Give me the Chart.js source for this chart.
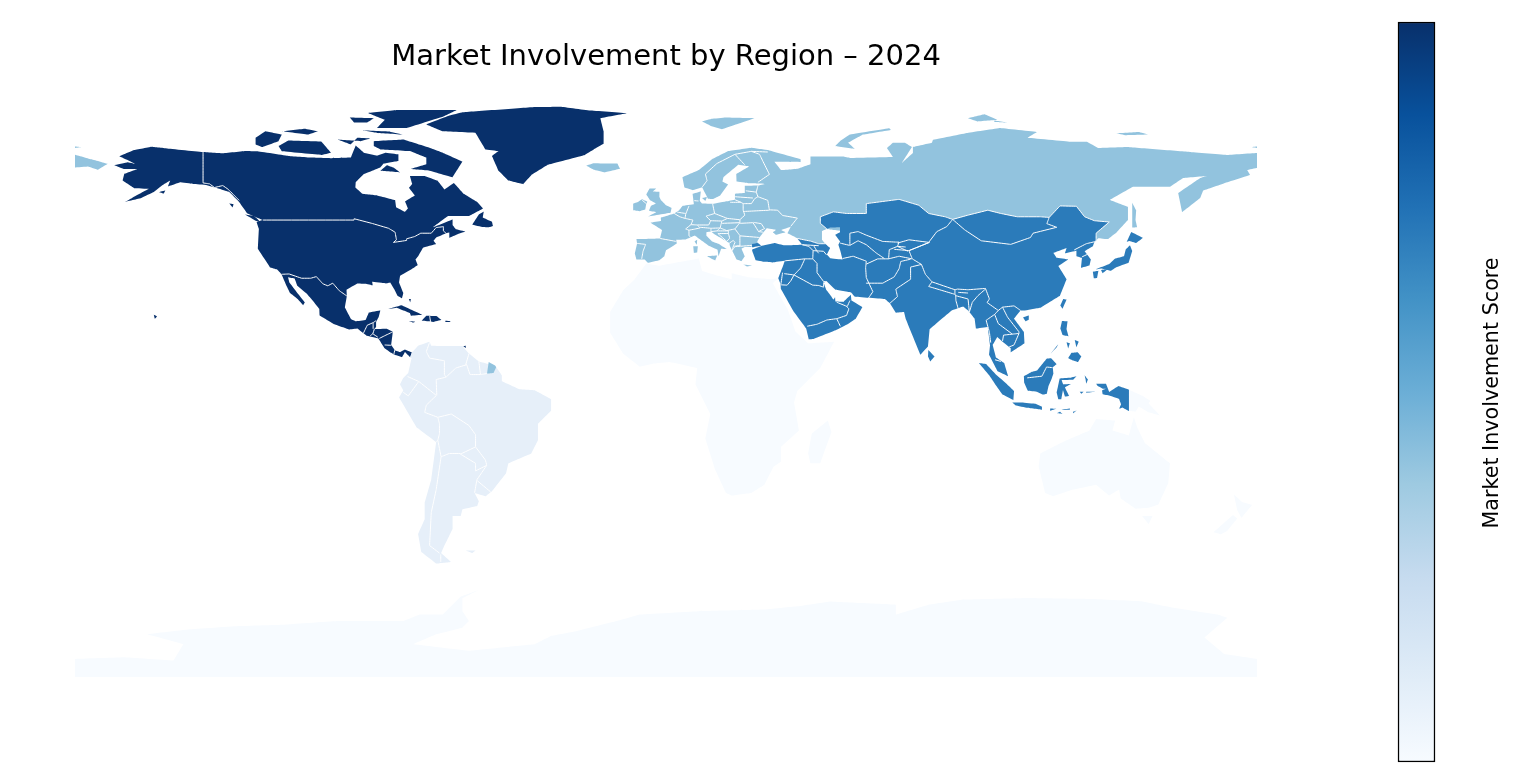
<!DOCTYPE html>
<html>
<head>
<meta charset="utf-8">
<title>Market Involvement by Region – 2024</title>
<script src="https://cdn.jsdelivr.net/npm/chart.js@4"></script>
<style>
  html, body { margin: 0; padding: 0; background: #fff; overflow: hidden; }
  #map { position: absolute; left: 0; top: 0; }
  #bar { position: absolute; left: 1380px; top: 0; }
</style>
</head>
<body>
<canvas id="map" width="1380" height="777"></canvas>
<canvas id="bar" width="139" height="777"></canvas>
<script>
// all outlines are [lon, lat]
const titleText = 'Market Involvement by Region – 2024';
const colorbarLabel = 'Market Involvement Score';
const blues = ['#f7fbff','#deebf7','#c6dbef','#9ecae1','#6baed6','#4292c6','#2171b5','#08519c','#08306b'];
const colorNorthAmerica = '#08306b';
const colorAsia = '#2b7bba';
const colorEurope = '#92c3de';
const colorSouthAmerica = '#e6eff9';
const colorFaint = '#f7fbff';

const northAmerica = [
  [[-168,65.7],[-164,66.6],[-161.7,66.1],[-163.7,67.1],[-166.5,68.4],[-162,70.3],[-156.6,71.3],[-152,70.8],[-141,69.7],[-135,69.3],[-128,70],[-124.5,69.9],[-115,68.5],[-108,68],[-102,67.8],[-96,68],[-94.5,71.7],[-92,69.5],[-88,68.6],[-85.5,69.5],[-81.5,69],[-81.5,67],[-86,66.2],[-87,65],[-92,63],[-94.5,60.5],[-94.6,58.9],[-92.5,57],[-88,56.5],[-82.5,55.1],[-82.2,52.9],[-79.5,51.5],[-78.6,52.5],[-79.5,54.7],[-76.5,56.5],[-78.3,58.8],[-77.3,60],[-78,62.4],[-73.5,62.4],[-69.6,61],[-67.5,58.3],[-64.6,60.3],[-61.5,56.9],[-57.5,54.5],[-55.7,52.5],[-60,50.2],[-66.4,50.2],[-71,46.8],[-65,49.2],[-65,47.5],[-64,46.2],[-61,45.5],[-63.5,44.7],[-66,43.6],[-66,45.2],[-67,45],[-70,43.7],[-70.8,42.7],[-70,41.7],[-74,40.6],[-75.5,38],[-76.3,37],[-75.6,35.3],[-77.5,34],[-81,32],[-81.3,30],[-80,26.8],[-80.4,25.2],[-81.8,26],[-82.8,28],[-84,30],[-85.3,29.7],[-89.5,30.2],[-89.3,29.1],[-91.5,29.6],[-94,29.7],[-97.3,27.8],[-97.2,25.9],[-97.8,22.4],[-95.9,18.8],[-94.5,18.2],[-91.5,18.6],[-90.5,20.9],[-87,21.5],[-87.5,19.5],[-88.3,18],[-88.3,16.5],[-88.9,15.8],[-85,15.9],[-83.2,15],[-83.7,11],[-82.5,9.3],[-81,8.8],[-79.5,9.6],[-77.4,8.7],[-77.9,7.3],[-79.5,8.9],[-80.4,7.3],[-82.9,8.1],[-83.7,8.6],[-85.7,10],[-87.6,13],[-91.3,13.9],[-94,16],[-96.5,15.7],[-101,17.3],[-105.5,20],[-105.6,22],[-108,25],[-109.4,26.6],[-112.3,29],[-113.1,31.2],[-115.1,31.6],[-114.7,30],[-112.4,27],[-110,24],[-110.5,23.1],[-112.2,25],[-114.5,26.8],[-115.8,29.5],[-117.1,32.5],[-118.5,34],[-120.6,34.6],[-122.5,37.5],[-124.3,40.3],[-124,46.3],[-124.7,48.4],[-122.8,49],[-127.5,51],[-130,54.5],[-133,57.5],[-137,58.8],[-140,59.7],[-144,60],[-148,60.5],[-151.7,59.2],[-151,61],[-153.5,59.5],[-156,57.5],[-160,55.6],[-164.8,54.5],[-162.5,55.8],[-157.5,58.5],[-162,58.7],[-165.5,61],[-165,63],[-161,64.5],[-165,64.5]],
  [[-73,78.1],[-68,76],[-58,75.5],[-55,70.5],[-51,70],[-53,68.5],[-51,64],[-48,61],[-43.5,59.9],[-41,62.7],[-36,65.8],[-25,68.7],[-22,70.5],[-19,72.2],[-19,76],[-20,80],[-12,81.5],[-23,82.3],[-32,83.5],[-40,83.4],[-62,81.8],[-66,80.8]],
  [[-89,73],[-80,73.5],[-72,71],[-68,69.5],[-62,66.8],[-65,62],[-72,64],[-78,64.5],[-73,66],[-73,68],[-78,70],[-87,70.5],[-89,71.5]],
  [[-117,69.9],[-105,68.8],[-102,69.5],[-105,72.9],[-115,73.2],[-118,71.5]],
  [[-125,72],[-123,71.2],[-118,73],[-117,75],[-122,76],[-125,74]],
  [[-117,76],[-109,75],[-106,76],[-110,76.8]],
  [[-87,64],[-81,63.5],[-83,65],[-85,65.7]],
  [[-100,73.5],[-96,72],[-94,74],[-90,73.8],[-93,73]],
  [[-92.6,76.3],[-88,75.5],[-80,75],[-84,75.9]],
  [[-90.8,81.6],[-82,82.5],[-63.7,82.5],[-68,80.4],[-78.9,77],[-88,77],[-85.6,79.5]],
  [[-96.3,80.2],[-89,80],[-91,78.7],[-95,78.7]],
  [[-59,47.6],[-57,50.7],[-55.5,51.6],[-55.8,49.8],[-53,48.5],[-52.7,47.2],[-54,46.8],[-55.8,46.9]],
  [[-128.2,50.7],[-125.5,50.3],[-123.5,48.4],[-125,48.8]],
  [[-133,54],[-131.7,53.8],[-132,52.8]],
  [[-154.5,57.5],[-152.5,58],[-153,57]],
  [[-156,20.2],[-155,19.7],[-155.7,19]],
  [[-84.9,21.9],[-80.5,23.1],[-74.2,20.2],[-77.7,19.9],[-78,20.7],[-82,22.3]],
  [[-74.4,18.4],[-73,19.9],[-69.9,19.8],[-68.4,18.6],[-71,18],[-72,18.2]],
  [[-78.3,18.3],[-76.4,18.1],[-77,17.8]],
  [[-67.2,18.4],[-65.6,18.3],[-65.9,18],[-67.2,18]],
  [[-78.3,25],[-77.7,25],[-77.9,24]],
  [[-61.8,10.7],[-61,10.8],[-61,10.1]]
];

const northAmericaBorders = [
  [[-122.8,49],[-95,49],[-95,49.4],[-89.6,48],[-84.5,46.5],[-82.5,45.3],[-82.1,43],[-83,42.2],[-79,42.8],[-79,43.3],[-76.5,44],[-74.7,45],[-71.5,45],[-70,46.7],[-67.8,47],[-67.8,45.7],[-67,45]],
  [[-141,69.7],[-141,60.3],[-139,60],[-137.5,58.9],[-135,59.5],[-133.4,58.4],[-131,56],[-130,55]],
  [[-117.1,32.5],[-114.8,32.6],[-111,31.3],[-108.2,31.3],[-106.5,31.8],[-104.5,29.6],[-103,29],[-101.5,29.8],[-99.5,27.5],[-97.2,25.9]],
  [[-92.2,14.5],[-91,17],[-89.2,17.8],[-88.3,18.4]],
  [[-89.2,17.8],[-89.2,15.9]],
  [[-88.8,15.9],[-89.3,14.4],[-87.8,13.4]],
  [[-90.1,13.8],[-89.3,14.4]],
  [[-87.3,13],[-85.7,13.8],[-83.2,15]],
  [[-85.7,11],[-83.7,10.9]],
  [[-82.6,9.5],[-82.9,8.1]],
  [[-72,19.9],[-71.7,18]]
];

const southAmerica = [
  [[-77.4,8.7],[-75.5,10.8],[-72,12],[-71.5,10.8],[-68,10.7],[-62,10.7],[-60,8.4],[-57,6],[-52,4.7],[-50,1.8],[-50,0],[-44.5,-2.5],[-40,-2.8],[-35,-5.5],[-35,-9],[-39,-13],[-39,-18],[-41,-22],[-48,-25],[-48.7,-28],[-53,-33.5],[-54.9,-35],[-58.3,-34],[-57,-36.5],[-57.5,-38],[-62,-39],[-62.5,-41],[-65,-41],[-65,-45],[-66,-47],[-67.5,-50],[-68.5,-52.3],[-65.5,-55],[-70,-55.5],[-74.5,-52],[-75.5,-46.5],[-73.5,-42],[-73.5,-37],[-71.5,-30],[-70,-18.5],[-76,-14],[-81.3,-5],[-80,-2.8],[-81,-1],[-80,1],[-78.5,2.5],[-77.5,7],[-77.9,7.3]],
  [[-61,-51.5],[-58,-51.5],[-59,-52.3]]
];

const southAmericaBorders = [
  [[-72,11.8],[-73,9],[-72,7],[-67.5,6.2],[-67.5,2],[-67,1.2]],
  [[-67,1.2],[-70,0.5],[-69.8,-4.3]],
  [[-78.7,1.4],[-75.3,-0.1],[-70,-4.3]],
  [[-75.3,-0.1],[-78.5,-4.5],[-80,-3.4]],
  [[-69.9,-4.3],[-73,-7.3],[-73.5,-9.5],[-69.5,-11],[-69,-13],[-69,-16],[-69.5,-18],[-70,-18.4]],
  [[-69.5,-11],[-65.4,-10],[-60,-13.5],[-58,-16.3],[-58,-20]],
  [[-58,-20],[-62.6,-22.2]],
  [[-62.6,-22],[-66,-22],[-68.5,-23],[-69.5,-18]],
  [[-68.5,-23],[-70,-33],[-71.5,-40],[-72,-50],[-69,-52.3]],
  [[-68.6,-52.7],[-68.6,-55]],
  [[-58,-20],[-55,-24],[-54.6,-25.6],[-58,-27.3],[-58,-25],[-62.6,-22.2]],
  [[-54.6,-25.6],[-57.6,-30],[-58.3,-34]],
  [[-57.6,-30.2],[-53.4,-33.7]],
  [[-60,8.4],[-61,5],[-60.7,5]],
  [[-67,1.2],[-64,4],[-60.7,5],[-59.7,2],[-56.5,2],[-54.5,2.3]],
  [[-57,6],[-56.5,2]]
];

const frenchGuiana = [
  [[-54.5,2.3],[-54,5.8],[-52,4.7],[-51.7,4.2],[-52.5,2.5]]
];

const europeRussia = [
  [[-9,37],[-9.5,38.8],[-8.8,41.9],[-9,43.2],[-1.8,43.4],[-1.2,46],[-4.7,48.2],[-1.5,48.7],[-1.6,49.7],[2.5,51],[4,52],[5,53.3],[8.5,53.8],[8.1,57],[10.6,57.7],[10.3,54.8],[11,54],[14.3,53.9],[18.5,54.7],[21,55.2],[21,57],[24,57.2],[24,59.4],[28,59.5],[30.2,60],[25,60.2],[21.5,60.7],[21.4,63],[25.3,65.3],[22,65.8],[17.5,62],[17.2,60.7],[18.9,59.8],[16.5,56.5],[14.3,55.4],[12.8,55.5],[11,59],[8.2,58.1],[5.6,58.9],[5,62],[10,64.2],[14,67.5],[19,70],[26,71],[31,70.3],[41,67.5],[41,66.6],[33,66.7],[35,64.2],[37,64.3],[40,64.6],[44,66],[44,68.3],[54,68.3],[56,67.9],[69.1,68.2],[67.3,70.9],[69.1,72.5],[72.8,72.5],[74.9,71.2],[71.9,66.4],[75.2,69.4],[75.2,71.2],[81,72.5],[81.3,73.4],[91.7,75.5],[101.7,77],[113,75.8],[110,74],[123,72.8],[128.2,72.8],[131.6,70.9],[140.4,71.2],[159.6,69.7],[170.9,68.8],[180,69.4],[180,64.8],[177,64.2],[177.9,62.7],[170.3,60.3],[163.6,58],[162.7,55.7],[157.2,51.4],[156,57.2],[162.7,61.8],[164.8,62.4],[157.5,61.8],[153.5,59.1],[142.2,59.1],[135.2,55.1],[140.7,53],[140.7,49],[137.4,45.4],[134.6,43.2],[131.6,43.5],[131,42.7],[125,44],[100,45],[60,45],[51,46],[49,46.3],[47.5,45.7],[47.5,43],[48.5,41.8],[46.5,41.5],[40,43.5],[37,45],[38,47],[35,46],[36.5,45.3],[33.5,44.5],[32.5,45.3],[33.5,46],[30.7,46.5],[28.7,44],[27.8,42.5],[28,41.9],[26.3,41.6],[26,40.8],[24,40.8],[23,40.3],[24,38],[23,36.5],[21.5,37],[19.5,41],[19.3,42],[15,44.5],[13.7,45.5],[12.3,45.3],[12.3,44.2],[14,42.5],[16,41.8],[18.5,40.2],[16.8,40.3],[16,38],[15.7,40],[13,41.2],[10.5,43],[8.8,44.3],[6,43.1],[3.1,43],[3.3,41.9],[0,39.8],[-0.5,38],[-2,36.8],[-5.5,36],[-6.5,37]],
  [[-180,68.9],[-175,67.5],[-170,66.1],[-173,64.3],[-176,65.3],[-180,65]],
  [[-180,71.4],[-178,71.2],[-180,70.9]],
  [[178,71.2],[180,71.4],[180,70.9]],
  [[142,54.3],[143.2,52],[143,49],[143.5,46.8],[142,46.7],[142,50]],
  [[-5.7,50],[1.4,51.2],[1.7,52.7],[0,53.5],[-1.5,55],[-2,56],[-2,57.6],[-4,57.7],[-3,58.6],[-5,58.6],[-6,56.8],[-4.8,55],[-3,54],[-4.6,53.3],[-5.2,51.8],[-3,51.4]],
  [[-10,52],[-8,51.7],[-6.3,52.2],[-6,54],[-5.7,54.6],[-7.3,55.3],[-8.5,54.5],[-10,54]],
  [[-24.3,65.6],[-22,64.3],[-18.7,63.5],[-14,64.6],[-14.8,66.2],[-18,66.2],[-22,66.3]],
  [[11,79],[14,77.5],[17,76.6],[22,78.3],[27,80],[18,80.2],[14,79.8]],
  [[51.5,71.5],[53,73],[56,75],[68,76.9],[68.5,76.4],[60,75],[55.5,72.5],[57.5,70.6]],
  [[92,80],[97,81.2],[101,79.5],[95,79]],
  [[100,79.3],[105,78.5],[100,78.8]],
  [[137,75.4],[144,75.8],[147,75],[140,74.8]],
  [[11,55.7],[12.5,56],[12,54.8]],
  [[8.3,41],[9.7,41],[9.5,39.1],[8.5,39]],
  [[8.7,42.5],[9.5,43],[9.4,41.5]],
  [[12.5,38],[15.6,38.2],[15,36.7]],
  [[23.5,35.5],[26.2,35.2],[24.7,34.9]]
];

const europeBorders = [
  [[-8.8,41.9],[-6.2,41.6],[-7,39.5],[-7.4,37.2]],
  [[-1.8,43.4],[3.1,42.5]],
  [[2.5,51],[4.2,50],[5.8,49.5],[8.2,49],[7.6,47.6],[6,46.3],[7,45.9],[7,44.2],[7.5,43.8]],
  [[3.4,51.4],[6,51]],
  [[6,50.8],[7,53.3]],
  [[6,50.8],[5.8,49.5]],
  [[8.6,54.9],[9.9,54.8]],
  [[14.2,53.9],[14.8,51],[12.2,50.2],[13.6,48.8],[13,47.5],[9.6,47.5],[7.6,47.6]],
  [[6.9,45.9],[8.5,46.2],[10.4,46.6],[9.6,47.4]],
  [[10.4,46.8],[13.7,46.5],[13.7,45.6]],
  [[13.7,46.5],[16.5,46.6],[15.5,45.7],[13.7,45.5]],
  [[13.6,48.8],[17,48.7],[16.5,46.6]],
  [[14.8,51],[18.7,49.5],[22.5,49.1],[24,50.5],[23.5,52],[23.5,54],[22.8,54.4],[19.5,54.4]],
  [[22.8,54.4],[21,55.2]],
  [[17,48.7],[18.7,49.5]],
  [[17,48],[22.5,48.2],[21,46.3],[18.5,45.8],[16.5,46.6]],
  [[22.5,49.1],[22.5,48.2]],
  [[22.5,48],[26.5,48.2],[28.2,45.5],[29.6,45.3]],
  [[22.5,44.2],[28.5,43.7]],
  [[21,46.3],[22.5,44.3],[22.5,41.3]],
  [[26.6,48.3],[29,47.9],[30,46.4],[28.2,45.5]],
  [[20.1,39.7],[21,40.9],[26.2,41.3]],
  [[15.5,45.7],[19,45.7],[19,44.9],[15.8,44.9],[18.5,42.5]],
  [[19,44.9],[19.4,43.5],[18.5,42.5]],
  [[19.3,42],[20.5,42.8],[21,42.2],[20.5,41],[20.1,39.7]],
  [[20.5,41],[22.7,41.3]],
  [[23.5,51.6],[31.5,52]],
  [[31.5,52.1],[34,52],[35.5,50.4],[40,49.6],[38,47.1]],
  [[31.5,52],[31,55],[28,56.1]],
  [[23.5,54],[26,54],[27,55.5],[28,56.1]],
  [[21,56.1],[26.5,55.7]],
  [[24.3,57.9],[27.5,57.5]],
  [[28,56.1],[27.5,57.5],[28,59.5]],
  [[28,60.5],[31.5,62.9],[29.5,66.9],[28.5,69],[26,69.9],[21,69],[24,65.8]],
  [[21,69],[15.5,66.2],[12,63],[12.5,61],[11,59]],
  [[26,69.9],[31,69.7]],
  [[-7.3,55.1],[-6,54]]
];

const asia = [
  [[47,50],[51,51.5],[55,51],[61,51],[61,54],[71,55.3],[77,53.5],[80,51],[85,50],[87.3,49.2],[92,50.5],[98,52],[102,51],[107,50],[114,50],[116.7,49.8],[120,53.3],[125,53.2],[127.5,50],[130.5,48.8],[135,48.4],[131,45],[131,42.7],[130.5,42.4],[130,41],[127.5,39.5],[129.4,37],[129,35.2],[126.4,34.5],[126.7,37.5],[125,38],[125,39.7],[121.5,38.9],[122,40.5],[118,39],[119,37.5],[122.5,37],[119.5,35],[122,31],[120,26],[114,22.3],[109.5,21.5],[108,21.5],[106,19],[109,15],[109.2,11.5],[105,8.7],[105,10],[102.5,12],[100.9,13.4],[99.5,11],[100.5,7.2],[103,5.5],[104.2,1.5],[101,3],[98.4,8],[98.7,11],[98,16.5],[94.4,16],[94,19],[92,21.5],[90.5,22.7],[87,21.5],[80.3,15.8],[79.8,10.5],[77.5,8],[73,19],[72.5,21],[70,20.8],[68.2,23.7],[66.7,25],[57.5,25.7],[56.4,27],[51.5,27.9],[49,30.3],[48,30],[48.8,27.8],[50.2,26],[51,24.8],[51.5,25.5],[51.6,24.2],[54,24.1],[56.3,26.3],[56.5,24.5],[59.8,22.5],[57.8,19],[55.3,17.3],[52,15.6],[45,12.8],[43.5,12.7],[42.7,16],[39,21],[35,28],[34.9,29.5],[34.2,31.3],[35.8,35.5],[36.2,36.6],[32.5,36.1],[30,36.3],[27.3,36.8],[26.3,39.5],[26.2,40],[29,41.1],[33,42],[36,41.3],[41.5,41.5],[40,43.4],[44,42.6],[46.5,41.8],[48.5,41.8],[50,40.5],[49,38.5],[50,37.4],[53.8,37],[53,40],[52.5,41.5],[53,42.5],[51.5,44.5],[53,45.3],[53,46.8],[50,46.7],[49,46.3],[47,48]],
  [[26.2,40.7],[26.2,41.7],[28,42],[29,41.2]],
  [[130.9,34],[135,35.6],[136.8,37.3],[139.5,38],[140,40],[141.3,41.3],[142,39.6],[140.9,36],[137,34.6],[135.5,33.6],[132.5,34.3]],
  [[130,33.3],[131.7,33.6],[131.3,31.4],[130.3,31.3]],
  [[132.5,33.8],[134.5,34],[133,32.8]],
  [[140.3,42.3],[141.7,45.4],[145.3,43.6],[143.2,42],[141,42.6]],
  [[121,25],[122,24.8],[120.8,22],[120.1,23]],
  [[108.7,19.4],[110.5,20],[110.5,18.7],[109.5,18.2]],
  [[79.9,9.5],[81.8,7.5],[80.5,6],[79.8,7.5]],
  [[120.6,18.3],[122.3,18.2],[122,15.8],[122.6,13.6],[120.8,14],[120.1,16]],
  [[122.5,7],[123.5,8.6],[125.4,8.8],[126.5,7.5],[125.5,5.8],[124,6.3]],
  [[122,11.8],[123,11.5],[122.5,9.9]],
  [[124.5,12.5],[125.7,12],[125,10.3]],
  [[117.2,8.4],[119.5,11.3],[119,10.3]],
  [[95.3,5.5],[97.5,5.2],[100.5,2],[103.7,-0.8],[106,-3],[105.8,-5.8],[102.5,-4.1],[100.3,-1],[98.5,1.7]],
  [[105.5,-6.5],[108.5,-6.5],[112.6,-6.9],[114.5,-7.8],[114.5,-8.7],[110,-8.1],[106.5,-7.4]],
  [[109,1.5],[111.2,2.7],[113,3.2],[116,6.9],[117.3,7],[119,5.2],[117.8,4.2],[118,2.3],[117.5,0.8],[116.5,-1.5],[116,-3.8],[114.8,-4.1],[113,-3.2],[110.2,-2.9],[109.1,-0.5]],
  [[119.5,-5.5],[119,-3.5],[119.9,0.8],[123,1],[125,1.5],[124,0.4],[120.5,0.3],[121,-1],[123.3,-0.9],[121.5,-1.9],[122.8,-4.5],[121.5,-4.7],[120.9,-2.7],[120.4,-5.5]],
  [[124,-9.8],[125,-8.9],[124,-9.3]],
  [[120,-8.8],[123,-8.3],[123,-8.7]],
  [[117,-9],[119,-8.4],[117,-8.3]],
  [[119,-9.8],[120.8,-10],[120,-9.3]],
  [[128,-3.2],[130.8,-3.2],[128,-3.5]],
  [[127.5,1.8],[128.5,0.5],[128,-0.8],[127.8,0.5]],
  [[126,-3.2],[127.2,-3.2],[126.5,-3.8]],
  [[131,-0.8],[134,-0.8],[135,-3.3],[137.8,-1.5],[141,-2.6],[141,-9.1],[139,-8],[138,-8.4],[138.6,-7],[138,-5.4],[135,-4.4],[133,-4],[132.8,-2.8],[134,-2.3],[133,-2.3],[131.5,-1.5]]
];

const asiaBorders = [
  [[47,50],[51,51.5],[55,51],[61,51],[61,54],[71,55.3],[77,53.5],[80,51],[85,50],[87.3,49.2],[92,50.5],[98,52],[102,51],[107,50],[114,50],[116.7,49.8],[120,53.3],[125,53.2],[127.5,50],[130.5,48.8],[135,48.4],[131,45],[131,42.7],[130.5,42.4]],
  [[47,50],[47,48],[49,46.3]],
  [[36.2,36.6],[42.3,37.2],[44.7,37.2]],
  [[41.5,41.5],[43.5,41],[44.8,39.7],[44.7,37.2]],
  [[41.5,41.5],[46.5,41.2]],
  [[40,43.4],[44,42.6],[46.5,41.8],[48.5,41.8]],
  [[45,41.2],[46,39.5],[46.5,38.9]],
  [[44.8,39.7],[48,39.5],[48.9,38.4]],
  [[44.7,37.2],[46,35.8],[46,33],[48,30.3],[49,30.3]],
  [[42.3,37.2],[41,34.4],[39,32.3]],
  [[39,32.3],[36,32.7]],
  [[35.5,33],[35,29.5]],
  [[35,29.3],[36.9,29.2],[38,30.5],[39,32.3],[44.7,29.2],[46.5,29.1],[48,28.6],[48,30]],
  [[43,16.7],[46,17.3],[49,18.6],[52,19],[55,20],[55.7,22],[55,22.7]],
  [[52,24],[55.2,22.7],[56,24.5]],
  [[52,19],[53.1,16.7]],
  [[53.8,37.3],[57,38],[61,36.5],[60.8,34.5],[61,31.5],[63,27.2],[61.5,25]],
  [[60.9,29.8],[66,29.8],[69.5,31.7],[71,34.2],[71.5,36.4],[74.5,37.1]],
  [[61,35.6],[64.5,37.2],[67.8,37.2],[71,38],[74.9,37.2]],
  [[56,41.3],[58.5,42.7],[61,41.5],[64,39],[66.5,37.3]],
  [[56,45],[56,41.3]],
  [[56,45],[58.5,45.5],[61,44.4],[66,42.5],[70,42.3],[71,42.3]],
  [[53,42],[55.9,41.3]],
  [[70.5,42],[74,43],[80.2,42.2],[74,39.7],[69.5,40.1]],
  [[67.8,37.2],[68,40],[70.5,41],[73.7,39.5]],
  [[71,42.3],[70.5,41],[73,40.8]],
  [[87.3,49.2],[85.5,47],[82.5,45.5],[80,42.2]],
  [[87.3,49.2],[91,46],[96,42.7],[105,41.6],[111,43.7],[111.8,45],[119,46.8],[116,47.9],[116.7,49.8]],
  [[80.2,42.2],[74,39.7],[75,37.2],[77.8,35.5],[79,32.5],[81,30.2],[88,27.8],[88.8,28],[92,27.8],[97.3,28.2],[98.5,25],[97.8,23.9],[101.2,21.5],[102.5,22.5],[106,22.9],[108,21.5]],
  [[77.8,35.5],[74.5,34.7],[74.5,31],[70,28],[70.5,25.7],[68.2,23.7]],
  [[81,30.2],[80,28.8],[88,26.4],[88,27.8]],
  [[89,27],[92,26.8]],
  [[88.2,26.4],[88.3,24.5],[89,22]],
  [[88.2,26],[92,25],[92.4,21]],
  [[92.4,21],[93.3,24],[95,26],[97.3,28]],
  [[101.2,21.5],[100.1,20.3],[97.5,18.5],[98.5,14.9],[98.9,11.7]],
  [[100.1,20.3],[101.2,17.5],[105.5,14.3]],
  [[102.5,22.5],[104,19.5],[107.5,15],[107.5,14.5]],
  [[102.5,12.2],[102.8,14],[105.5,14.3],[107.5,14.5],[106,11],[104.5,10.4]],
  [[100.2,6.5],[102,6]],
  [[124.3,39.9],[128,41.8],[130.5,42.4]],
  [[126.7,37.8],[128.4,38.6]],
  [[110,1],[114.5,1.5],[115.9,4.3],[117.7,4.1]]
];

const faintLand = [
  [[-17,21],[-13,27.7],[-9.5,31],[-6,35.8],[-2,35.1],[10,37.3],[11,33.5],[15,32.3],[20,31],[20,32.8],[25,31.6],[32,31],[34.2,31.3],[32.5,29.8],[37,22],[39.5,15],[43.3,11.5],[51.2,12],[47,4],[40,-3],[39,-6.5],[40.5,-15],[35,-20],[35,-24.5],[32.8,-26],[30,-31.5],[26,-34],[20,-34.8],[18.3,-34],[15,-27],[12,-17.5],[13.5,-10],[9,-1],[9.5,4],[5,5],[1,5.8],[-4,5.3],[-8,4.4],[-13,8.3],[-17,14.7]],
  [[49.3,-12],[50.4,-15.5],[47,-25],[44,-25],[43.3,-22],[44.4,-16]],
  [[114,-22],[113.5,-26],[115.5,-34],[118,-35],[124,-33],[131,-31.5],[135,-34.8],[138,-33],[138.5,-35.7],[143,-38.8],[147,-38.5],[150,-37.5],[153,-31],[153.5,-25],[146,-19],[143.5,-14],[142.5,-11],[141,-16.5],[136,-15],[136.8,-12],[131,-11.5],[129,-15],[122,-18],[117,-20.5]],
  [[145,-41],[148.2,-41],[147,-43.5]],
  [[166.7,-46],[172.7,-40.7],[174,-41.8],[171,-45.5],[169,-46.6]],
  [[173,-34.5],[175.5,-36.8],[178.5,-37.7],[175.3,-41.6],[174,-39.3]],
  [[141,-2.6],[145,-4.4],[147.5,-6],[147,-6.8],[150.5,-10.5],[147,-9.5],[144,-7.7],[143,-9.3],[141,-9.1]],
  [[-180,-90],[-180,-84.5],[-165,-84],[-150,-85],[-147,-80],[-158,-77],[-145,-75.5],[-130,-74.5],[-115,-74],[-100,-73],[-90,-73],[-80,-73],[-75,-71],[-68,-71],[-62.5,-65.5],[-57,-63.5],[-62,-66],[-62,-70],[-60,-73],[-62,-75],[-70,-77],[-77,-80],[-60,-82],[-40,-80],[-35,-77.5],[-27,-76],[-15,-73],[-8,-71],[10,-70],[30,-69.5],[40,-68.5],[50,-67],[60,-67.5],[70,-68],[70,-71],[80,-68],[90,-66.5],[110,-66],[130,-66.3],[145,-67],[155,-69],[168,-71],[171,-72],[164,-78],[170,-83],[180,-84.5],[180,-90]]
];

function toPoints(pairs){ return pairs.map(p => ({ x: p[0], y: p[1] })); }

// tiny tension: without it Chart.js takes its fast path and merges points that share a pixel column
function landSets(polys, color, order){
  return polys.map(poly => ({
    data: toPoints(poly.concat([poly[0]])),
    showLine: true,
    fill: 'shape',
    backgroundColor: color,
    borderColor: color,
    borderWidth: 0,
    pointRadius: 0,
    tension: 0.0001,
    order: order
  }));
}

function borderSets(lines){
  return lines.map(line => ({
    data: toPoints(line),
    showLine: true,
    fill: false,
    borderColor: '#ffffff',
    borderWidth: 1,
    pointRadius: 0,
    tension: 0.0001,
    order: 1
  }));
}

const mapDatasets = [].concat(
  landSets(faintLand, colorFaint, 6),
  landSets(europeRussia, colorEurope, 5),
  landSets(frenchGuiana, colorEurope, 2),
  landSets(southAmerica, colorSouthAmerica, 4),
  landSets(asia, colorAsia, 4),
  landSets(northAmerica, colorNorthAmerica, 4),
  borderSets(northAmericaBorders),
  borderSets(southAmericaBorders),
  borderSets(europeBorders),
  borderSets(asiaBorders)
);

new Chart(document.getElementById('map'), {
  type: 'scatter',
  data: { datasets: mapDatasets },
  options: {
    responsive: false,
    animation: false,
    layout: { padding: { left: 75, right: 123, top: 40, bottom: 100 } },
    plugins: {
      legend: { display: false },
      tooltip: { enabled: false },
      title: {
        display: true,
        text: titleText,
        color: '#000',
        font: { family: 'DejaVu Sans', size: 29, weight: 'normal' },
        padding: { top: 0, bottom: 30.2 }
      }
    },
    scales: {
      x: { type: 'linear', min: -180, max: 180, display: false },
      y: { type: 'linear', min: -90, max: 84, display: false }
    }
  }
});

// right axis titles read top-down in Chart.js, the label here reads bottom-up
const colorbarTitle = {
  id: 'colorbarTitle',
  afterDraw(chart){
    const c = chart.ctx;
    c.save();
    c.translate(113, 393);
    c.rotate(-Math.PI / 2);
    c.font = '20.7px "DejaVu Sans"';
    c.fillStyle = '#000';
    c.textAlign = 'center';
    c.textBaseline = 'middle';
    c.fillText(colorbarLabel, 0, 0);
    c.restore();
  }
};

new Chart(document.getElementById('bar'), {
  type: 'bar',
  data: {
    labels: [''],
    datasets: [{
      data: [[0, 100]],
      barPercentage: 1,
      categoryPercentage: 1,
      borderColor: '#000',
      borderWidth: 1.5,
      borderSkipped: false,
      clip: false,
      backgroundColor: ctx => {
        const area = ctx.chart.chartArea;
        if (!area) return blues[4];
        const g = ctx.chart.ctx.createLinearGradient(0, area.bottom, 0, area.top);
        blues.forEach((c, i) => g.addColorStop(i / (blues.length - 1), c));
        return g;
      }
    }]
  },
  plugins: [colorbarTitle],
  options: {
    responsive: false,
    animation: false,
    layout: { padding: { left: 18, right: 84, top: 22, bottom: 15 } },
    plugins: { legend: { display: false }, tooltip: { enabled: false } },
    scales: {
      x: { display: false },
      y: { display: false, min: 0, max: 100 }
    }
  }
});
</script>
</body>
</html>
